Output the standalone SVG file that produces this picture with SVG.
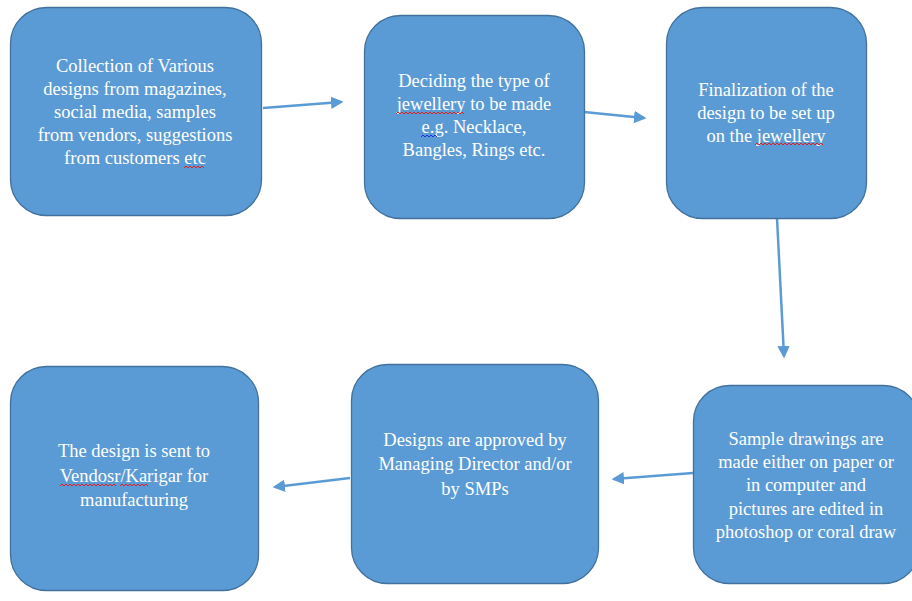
<svg xmlns="http://www.w3.org/2000/svg" width="912" height="601" viewBox="0 0 912 601">
<style>
.box{fill:#5B9BD5;stroke:#41719C;stroke-width:1.3}
.t{font-family:'Liberation Serif','DejaVu Serif',serif;font-size:18.5px;fill:#ffffff;text-anchor:middle}
.c{stroke:#5B9BD5;stroke-width:2.5;fill:none;marker-end:url(#ah)}
.sq{fill:none;stroke:#E02020;stroke-width:1}
.sqb{fill:none;stroke:#2030E0;stroke-width:1}
</style>
<defs>
<marker id="ah" viewBox="0 0 10 10" refX="8" refY="5" markerWidth="5" markerHeight="5" orient="auto" markerUnits="strokeWidth">
<path d="M0,0 L10,5 L0,10 z" fill="#5B9BD5"/>
</marker>
</defs>
<rect width="912" height="601" fill="#ffffff"/>
<g id="connectors">
<line class="c" x1="263" y1="108" x2="341" y2="102"/>
<line class="c" x1="584" y1="112" x2="644" y2="118"/>
<line class="c" x1="777" y1="218" x2="784" y2="356"/>
<line class="c" x1="693" y1="473" x2="614" y2="479"/>
<line class="c" x1="350" y1="478" x2="275" y2="487"/>
</g>
<g id="n1">
<rect class="box" x="10.5" y="7.5" width="251" height="208" rx="36"/>
<text class="t"><tspan x="135" y="72">Collection of Various</tspan><tspan x="135" y="95">designs from magazines,</tspan><tspan x="135" y="118">social media, samples</tspan><tspan x="135" y="141">from vendors, suggestions</tspan><tspan x="135" y="164">from customers etc</tspan></text>
<path class="sq" d="M184,168 l2,-2 l2,2 l2,-2 l2,2 l2,-2 l2,2 l2,-2 l2,2 l2,-2 l2,2"/>
</g>
<g id="n2">
<rect class="box" x="364.5" y="15.5" width="220" height="203" rx="36"/>
<text class="t"><tspan x="474" y="87">Deciding the type of</tspan><tspan x="474" y="110">jewellery to be made</tspan><tspan x="474" y="133">e.g. Necklace,</tspan><tspan x="474" y="156">Bangles, Rings etc.</tspan></text>
<path class="sq" d="M396,114 l2,-2 l2,2 l2,-2 l2,2 l2,-2 l2,2 l2,-2 l2,2 l2,-2 l2,2 l2,-2 l2,2 l2,-2 l2,2 l2,-2 l2,2 l2,-2 l2,2 l2,-2 l2,2 l2,-2 l2,2 l2,-2 l2,2 l2,-2 l2,2 l2,-2 l2,2 l2,-2 l2,2 l2,-2 l2,2 l2,-2 l2,2"/>
<path class="sqb" d="M421,137 l2,-2 l2,2 l2,-2 l2,2 l2,-2 l2,2 l2,-2 l2,2"/>
</g>
<g id="n3">
<rect class="box" x="666.5" y="7.5" width="200" height="211" rx="36"/>
<text class="t"><tspan x="766" y="96">Finalization of the</tspan><tspan x="766" y="119">design to be set up</tspan><tspan x="766" y="142">on the jewellery</tspan></text>
<path class="sq" d="M755,145 l2,-2 l2,2 l2,-2 l2,2 l2,-2 l2,2 l2,-2 l2,2 l2,-2 l2,2 l2,-2 l2,2 l2,-2 l2,2 l2,-2 l2,2 l2,-2 l2,2 l2,-2 l2,2 l2,-2 l2,2 l2,-2 l2,2 l2,-2 l2,2 l2,-2 l2,2 l2,-2 l2,2 l2,-2 l2,2 l2,-2 l2,2"/>
</g>
<g id="n4">
<rect class="box" x="693.5" y="385.5" width="226" height="198" rx="36"/>
<text class="t"><tspan x="806" y="445">Sample drawings are</tspan><tspan x="806" y="468">made either on paper or</tspan><tspan x="806" y="491">in computer and</tspan><tspan x="806" y="515">pictures are edited in</tspan><tspan x="806" y="538">photoshop or coral draw</tspan></text>
</g>
<g id="n5">
<rect class="box" x="351.5" y="364.5" width="247" height="219" rx="36"/>
<text class="t"><tspan x="475" y="446">Designs are approved by</tspan><tspan x="475" y="470">Managing Director and/or</tspan><tspan x="475" y="495">by SMPs</tspan></text>
</g>
<g id="n6">
<rect class="box" x="10.5" y="366.5" width="248" height="224" rx="36"/>
<text class="t"><tspan x="134" y="457">The design is sent to</tspan><tspan x="134" y="482">Vendosr/Karigar for</tspan><tspan x="134" y="506">manufacturing</tspan></text>
<path class="sq" d="M60,486 l2,-2 l2,2 l2,-2 l2,2 l2,-2 l2,2 l2,-2 l2,2 l2,-2 l2,2 l2,-2 l2,2 l2,-2 l2,2 l2,-2 l2,2 l2,-2 l2,2 l2,-2 l2,2 l2,-2 l2,2 l2,-2 l2,2 l2,-2 l2,2 l2,-2 l2,2"/>
<path class="sq" d="M120,486 l2,-2 l2,2 l2,-2 l2,2 l2,-2 l2,2 l2,-2 l2,2 l2,-2 l2,2 l2,-2 l2,2 l2,-2 l2,2"/>
</g>
</svg>
